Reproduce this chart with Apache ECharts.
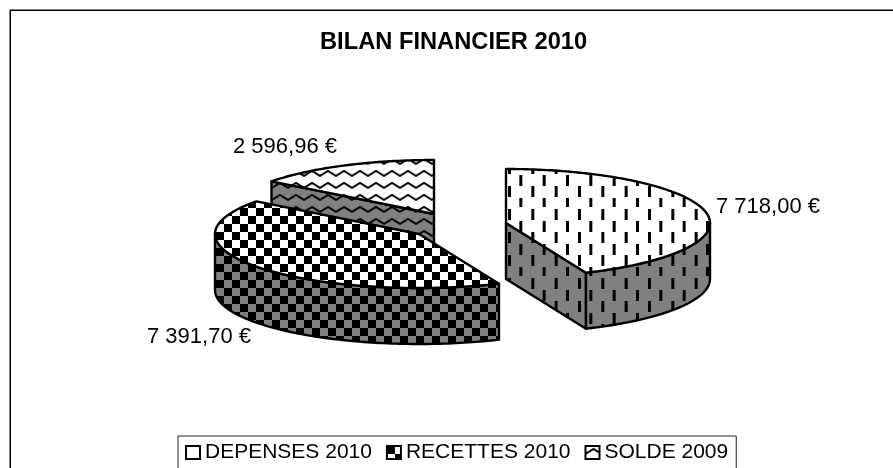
<!DOCTYPE html>
<html>
<head>
<meta charset="utf-8">
<style>html,body{margin:0;padding:0;background:#fff;overflow:hidden}#chart{width:893px;height:468px}</style>
<script src="https://cdn.jsdelivr.net/npm/echarts@6/dist/echarts.min.js"></script>
</head>
<body>
<div id="chart"></div>
<script>
const categories = ['DEPENSES 2010', 'RECETTES 2010', 'SOLDE 2009'];
const values = [7718.00, 7391.70, 2596.96];

// layout of the exploded slices, not data
const centers = [[506, 223], [419, 234], [434, 214]];
const labelAnchors = [[716, 207], [147, 337], [233, 147]];
const RX = 204, RY = 54, DEPTH = 56;
const FONT = 'Liberation Sans, Arial, sans-serif';
const GREY = '#808080';

function tile(w, h, bg, draw) {
  const c = document.createElement('canvas');
  c.width = w; c.height = h;
  const ctx = c.getContext('2d');
  ctx.fillStyle = bg;
  ctx.fillRect(0, 0, w, h);
  ctx.fillStyle = '#000';
  ctx.strokeStyle = '#000';
  draw(ctx);
  return { image: c, repeat: 'repeat' };
}
function dashes(bg) {
  return tile(70, 69, bg, ctx => {
    for (let i = 0; i < 3; i++) {
      for (let j = 0; j < 3; j++) {
        ctx.fillRect(6 + i * 23.33, 14 + j * 23, 3, 11);
        ctx.fillRect(18 + i * 23.33, 2 + j * 23, 3, 11);
      }
    }
  });
}
function checks(bg) {
  return tile(16, 16, bg, ctx => {
    ctx.fillRect(0, 0, 8, 8);
    ctx.fillRect(8, 8, 8, 8);
  });
}
function waves(bg) {
  return tile(16, 12, bg, ctx => {
    ctx.lineWidth = 2;
    ctx.beginPath();
    ctx.moveTo(-2, 9); ctx.lineTo(0, 8); ctx.lineTo(8, 3); ctx.lineTo(16, 8); ctx.lineTo(18, 9);
    ctx.stroke();
  });
}
const patterns = [dashes, checks, waves];
const total = values.reduce((a, b) => a + b, 0);

function euros(v) {
  const parts = v.toFixed(2).split('.');
  return parts[0].replace(/\B(?=(\d{3})+$)/g, ' ') + ',' + parts[1] + ' €';
}

function arc(c, a0, a1, dy) {
  const pts = [];
  const n = Math.max(2, Math.ceil((a1 - a0) / 0.02));
  for (let i = 0; i <= n; i++) {
    const t = a0 + (a1 - a0) * i / n;
    pts.push([c[0] + RX * Math.sin(t), c[1] - RY * Math.cos(t) + dy]);
  }
  return pts;
}

function slice(index) {
  return function (params, api) {
    const v = api.value(0);
    let before = 0;
    for (let i = 0; i < index; i++) before += values[i];
    const a0 = before / total * Math.PI * 2;
    const a1 = (before + v) / total * Math.PI * 2;
    const c = centers[index];
    const line = { stroke: '#000', lineWidth: 2.4, lineJoin: 'round' };
    const top = Object.assign({ fill: patterns[index]('#fff') }, line);
    const side = Object.assign({ fill: patterns[index](GREY) }, line);
    const children = [];

    function wall(p, q) {
      children.push({ type: 'polygon', shape: { points: [p, q, [q[0], q[1] + DEPTH], [p[0], p[1] + DEPTH]] }, style: side });
    }
    const p0 = arc(c, a0, a0, 0)[0];
    const p1 = arc(c, a1, a1, 0)[0];
    if (Math.sin(a0) < -0.001) wall(p0, c);
    if (Math.sin(a1) > 0.001) wall(c, p1);

    const f0 = Math.max(a0, Math.PI / 2), f1 = Math.min(a1, Math.PI * 1.5);
    if (f1 > f0) {
      const upper = arc(c, f0, f1, 0);
      const lower = arc(c, f0, f1, DEPTH).reverse();
      children.push({ type: 'polygon', shape: { points: upper.concat(lower) }, style: side });
    }
    children.push({ type: 'polygon', shape: { points: [c].concat(arc(c, a0, a1, 0)) }, style: top });
    children.push({
      type: 'text',
      style: { text: euros(v), x: labelAnchors[index][0], y: labelAnchors[index][1], fill: '#000', font: '22px ' + FONT, textAlign: 'left', textVerticalAlign: 'middle' }
    });
    return { type: 'group', children: children };
  };
}

const chart = echarts.init(document.getElementById('chart'), null, { renderer: 'canvas' });
chart.setOption({
  animation: false,
  backgroundColor: '#fff',
  title: {
    text: 'BILAN FINANCIER 2010', left: 315, top: 25,
    textStyle: { color: '#000', fontFamily: FONT, fontWeight: 'bold', fontSize: 23.7 }
  },
  graphic: [{
    type: 'rect', silent: true,
    shape: { x: 10.25, y: 10.25, width: 950, height: 550 },
    style: { fill: 'none', stroke: '#000', lineWidth: 1.5 }
  }],
  legend: {
    left: 178, top: 436, orient: 'horizontal', selectedMode: false,
    padding: [6, 8, 40, 7], itemGap: 14, itemWidth: 14, itemHeight: 13,
    backgroundColor: '#fff', borderColor: '#222', borderWidth: 1,
    textStyle: { color: '#000', fontFamily: FONT, fontSize: 21 },
    data: categories.map((name, i) => ({
      name: name, icon: 'rect',
      itemStyle: { color: patterns[i]('#fff'), borderColor: '#000', borderWidth: 2 }
    }))
  },
  series: categories.map((name, i) => ({
    type: 'custom', name: name, coordinateSystem: 'none', z: i === 2 ? 1 : 2 + i,
    data: [[values[i]]],
    renderItem: slice(i)
  }))
});
</script>
</body>
</html>
